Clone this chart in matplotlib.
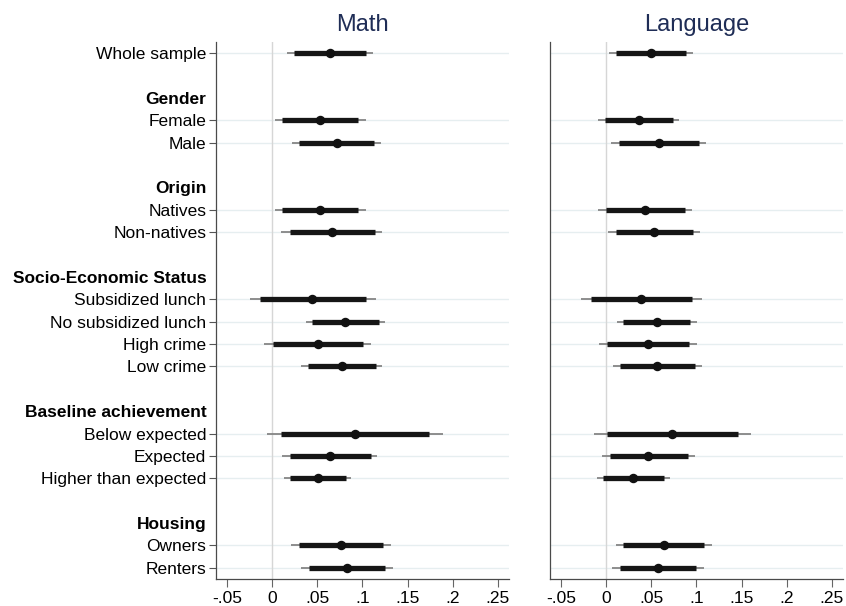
import matplotlib
matplotlib.use("Agg")
import matplotlib.pyplot as plt
import numpy as np

plt.rcParams["font.family"] = ["Liberation Sans", "DejaVu Sans"]

# row layout, top to bottom; None marks a spacer row
rows = [
    "Whole sample", None,
    "Gender", "Female", "Male", None,
    "Origin", "Natives", "Non-natives", None,
    "Socio-Economic Status", "Subsidized lunch", "No subsidized lunch",
    "High crime", "Low crime", None,
    "Baseline achievement", "Below expected", "Expected", "Higher than expected", None,
    "Housing", "Owners", "Renters",
]
headers = ["Gender", "Origin", "Socio-Economic Status", "Baseline achievement", "Housing"]

groups = ["Whole sample", "Female", "Male", "Natives", "Non-natives",
          "Subsidized lunch", "No subsidized lunch", "High crime", "Low crime",
          "Below expected", "Expected", "Higher than expected", "Owners", "Renters"]

# Math: point estimate, 90% CI, 95% CI
math_coef = [0.0635, 0.0532, 0.0713, 0.0532, 0.0657, 0.0443, 0.0809, 0.0506, 0.0768,
             0.0919, 0.0643, 0.0506, 0.0757, 0.0827]
math_lo90 = [0.024, 0.011, 0.0295, 0.011, 0.0192, -0.014, 0.0439, 0.0007, 0.0391,
             0.0096, 0.0192, 0.0192, 0.0292, 0.0403]
math_hi90 = [0.104, 0.0953, 0.1126, 0.0953, 0.1134, 0.1041, 0.1178, 0.1008, 0.1148,
             0.1739, 0.1093, 0.082, 0.1226, 0.1252]
math_lo95 = [0.0166, 0.003, 0.0218, 0.003, 0.0096, -0.0251, 0.0369, -0.0089, 0.0318,
             -0.0063, 0.0107, 0.0129, 0.0203, 0.0314]
math_hi95 = [0.1115, 0.1034, 0.1208, 0.1038, 0.1222, 0.1152, 0.1248, 0.110, 0.1222,
             0.1898, 0.1163, 0.0875, 0.1311, 0.1337]

# Language: point estimate, 90% CI, 95% CI
lang_coef = [0.0491, 0.0359, 0.0579, 0.0429, 0.0528, 0.0389, 0.0557, 0.0458, 0.0565,
             0.0733, 0.0466, 0.0301, 0.0638, 0.0576]
lang_lo90 = [0.0103, -0.0015, 0.0139, -0.0004, 0.0103, -0.0172, 0.0187, 0.0011, 0.0154,
             0.0007, 0.0037, -0.0033, 0.0187, 0.0154]
lang_hi90 = [0.0887, 0.0737, 0.1023, 0.0869, 0.0957, 0.0953, 0.0931, 0.0916, 0.0979,
             0.1466, 0.0902, 0.0641, 0.1089, 0.0997]
lang_lo95 = [0.0026, -0.0088, 0.0055, -0.0092, 0.0022, -0.0279, 0.0114, -0.0077, 0.0077,
             -0.0132, -0.0048, -0.0099, 0.0103, 0.0066]
lang_hi95 = [0.096, 0.081, 0.1107, 0.0953, 0.1041, 0.1059, 0.1001, 0.1001, 0.1056,
             0.1602, 0.0986, 0.0704, 0.1177, 0.1081]

xticks = [-0.05, 0, 0.05, 0.1, 0.15, 0.2, 0.25]
xticklabels = ["-.05", "0", ".05", ".1", ".15", ".2", ".25"]

TITLE_COLOR = "#1f2d56"
GRID_COLOR = "#e6eef0"
ZERO_COLOR = "#d6d6d6"
SPINE_COLOR = "#4a4a4a"
FS = 12.5

fig = plt.figure(figsize=(8.46, 6.06), dpi=100)
ax_m = fig.add_axes([0.2553, 0.0446, 0.3463, 0.8861])
ax_l = fig.add_axes([0.6501, 0.0446, 0.3463, 0.8861])

ypos = {name: i for i, name in enumerate(rows) if name is not None}
y = np.array([ypos[g] for g in groups])


def draw_panel(ax, title, coef, lo90, hi90, lo95, hi95):
    for yy in y:
        ax.axhline(yy, color=GRID_COLOR, linewidth=1.0, zorder=0)
    ax.axvline(0, color=ZERO_COLOR, linewidth=1.0, zorder=1)

    ax.hlines(y, lo95, hi95, color="#858585", linewidth=1.3, zorder=2)
    ax.hlines(y, lo90, hi90, color="#161616", linewidth=3.8, zorder=3)
    ax.plot(coef, y, "o", color="#111111", markersize=5.8, zorder=4)

    ax.set_xlim(-0.0625, 0.2625)
    ax.set_ylim(len(rows) - 0.5, -0.5)
    ax.set_xticks(xticks)
    ax.set_xticklabels(xticklabels, fontsize=FS)
    ax.tick_params(axis="x", length=6, width=0.8, color="#666666", pad=3)

    ax.spines["top"].set_visible(False)
    ax.spines["right"].set_visible(False)
    for s in ("left", "bottom"):
        ax.spines[s].set_color(SPINE_COLOR)
        ax.spines[s].set_linewidth(0.9)

    ax.set_title(title, fontsize=17, color=TITLE_COLOR, pad=8)


draw_panel(ax_m, "Math", math_coef, math_lo90, math_hi90, math_lo95, math_hi95)
draw_panel(ax_l, "Language", lang_coef, lang_lo90, lang_hi90, lang_lo95, lang_hi95)

# y labels only on the left panel; group headers get bold text and no tick
label_rows = [i for i, name in enumerate(rows) if name is not None]
ax_m.set_yticks(label_rows)
ax_m.set_yticklabels([rows[i] for i in label_rows], fontsize=FS)
ax_m.tick_params(axis="y", length=5, width=0.8, color="#555555", pad=2)
for tick, i in zip(ax_m.yaxis.get_major_ticks(), label_rows):
    if rows[i] in headers:
        tick.tick1line.set_visible(False)
        tick.label1.set_fontweight("bold")

ax_l.set_yticks([])

fig.savefig("out.png", dpi=100)
